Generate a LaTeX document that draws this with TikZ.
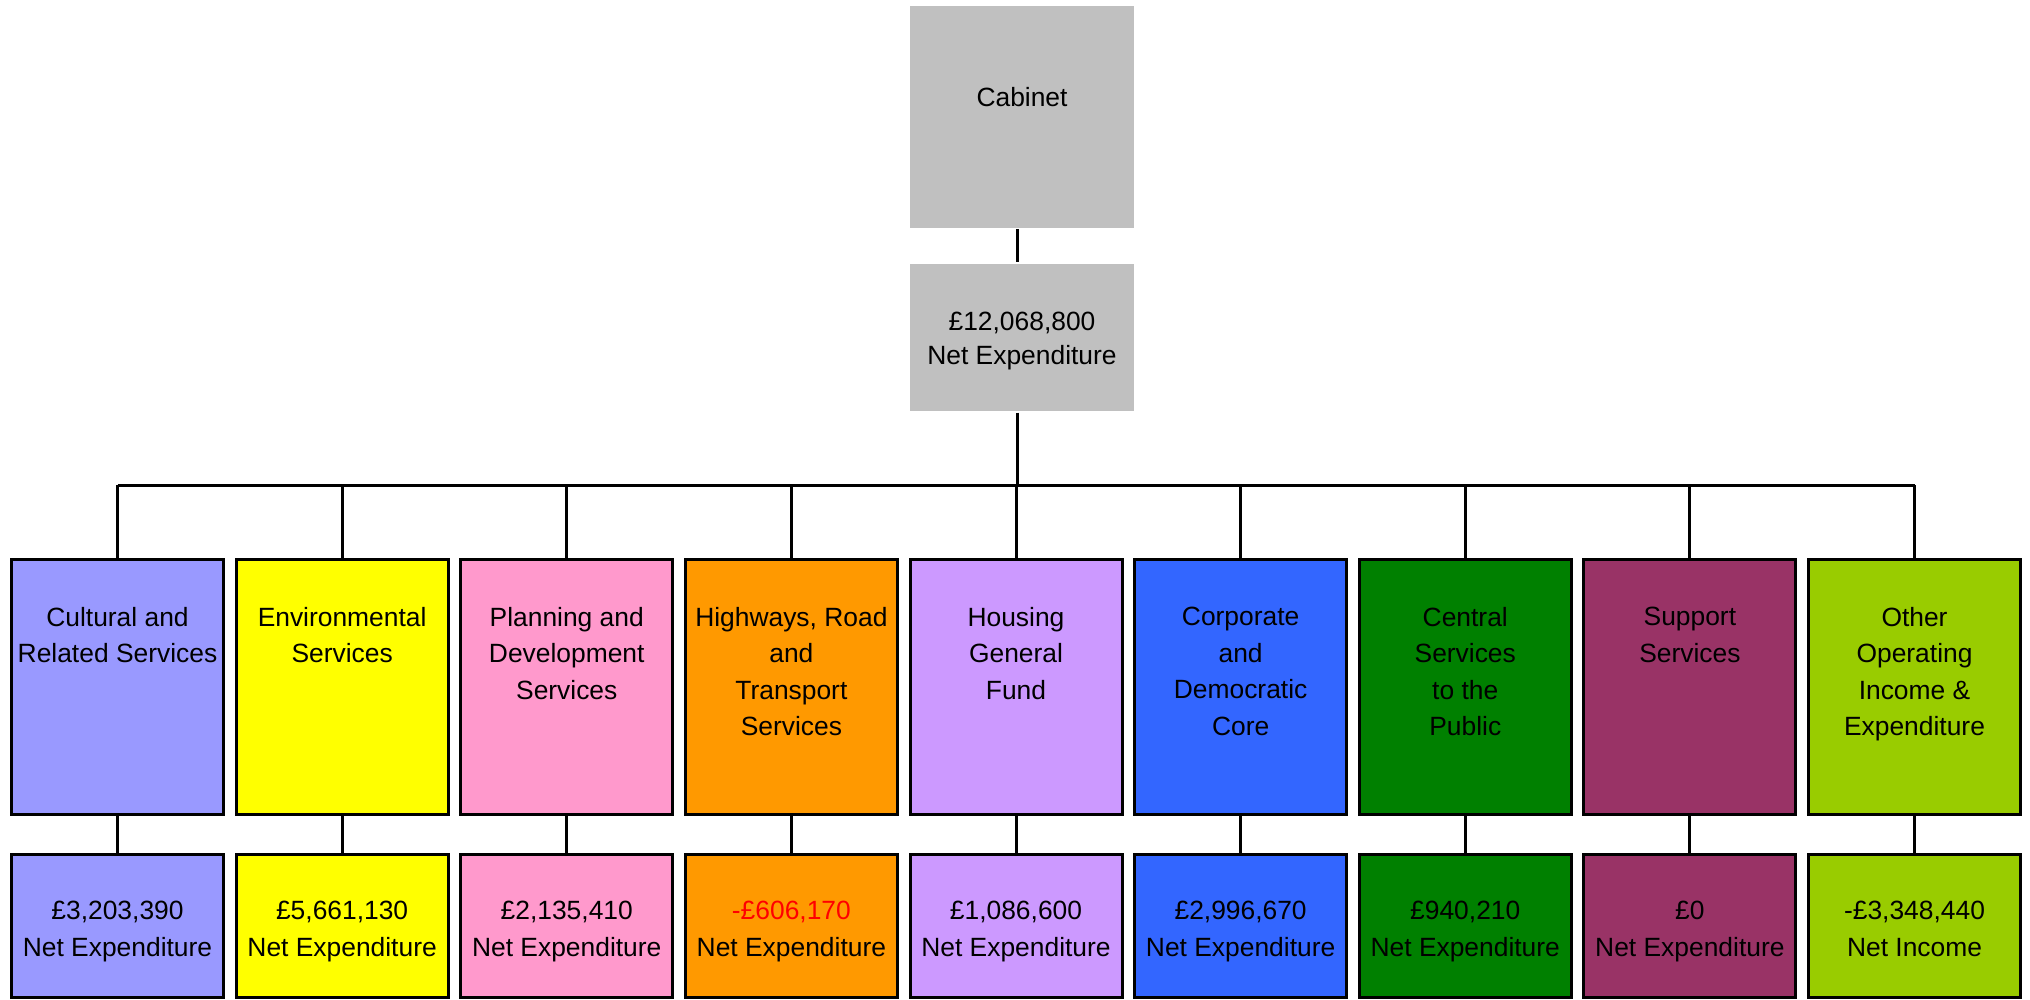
\documentclass[tikz,border=0pt]{standalone}
\usepackage{fontspec}
\setmainfont{Liberation Sans}
\definecolor{cabgrey}{HTML}{C0C0C0}
\definecolor{cultblue}{HTML}{9999FF}
\definecolor{envyellow}{HTML}{FFFF00}
\definecolor{planpink}{HTML}{FF99CC}
\definecolor{highorange}{HTML}{FF9900}
\definecolor{houslilac}{HTML}{CC99FF}
\definecolor{corpblue}{HTML}{3366FF}
\definecolor{centgreen}{HTML}{008000}
\definecolor{suppplum}{HTML}{993366}
\definecolor{otherlime}{HTML}{99CC00}
\definecolor{negred}{HTML}{FF0000}
\tikzset{
  cabbox/.style={fill=cabgrey, minimum width=112pt, inner sep=0pt},
  svcbox/.style={draw, line width=1.5pt, minimum width=106pt, minimum height=127.5pt, inner sep=0pt},
  sumbox/.style={draw, line width=1.5pt, minimum width=106pt, minimum height=71.5pt, inner sep=0pt},
  boxtext/.style={align=center, anchor=north, inner sep=0pt, font=\fontsize{13.2}{18.3}\selectfont,
    execute at begin node=\rule{0pt}{12pt}},
}
\begin{document}
\begin{tikzpicture}[x=0.5pt, y=-0.5pt, line width=1.5pt]
\useasboundingbox (0,0) rectangle (2030,1000);
% top of the tree
\node[cabbox, minimum height=111pt] (cab) at (1022,117) {};
\node[boxtext] (cabtxt) at (1022,81) {Cabinet};
\node[cabbox, minimum height=73.5pt] (net) at (1022,337.5) {};
\node[boxtext, font=\fontsize{13.2}{16.8}\selectfont] (nettxt) at (1022,311) {£12,068,800\\Net Expenditure};
\coordinate (bus) at (1017,485);
% service boxes
\foreach \i/\c/\name/\amt/\kind in {
  1/cultblue/{Cultural and\\Related Services}/{£3,203,390}/Expenditure,
  2/envyellow/{Environmental\\Services}/{£5,661,130}/Expenditure,
  3/planpink/{Planning and\\Development\\Services}/{£2,135,410}/Expenditure,
  4/highorange/{Highways, Road\\and\\Transport\\Services}/{\textcolor{negred}{-£606,170}}/Expenditure,
  5/houslilac/{Housing\\General\\Fund}/{£1,086,600}/Expenditure,
  6/corpblue/{Corporate\\and\\Democratic\\Core}/{£2,996,670}/Expenditure,
  7/centgreen/{Central\\Services\\to the\\Public}/{£940,210}/Expenditure,
  8/suppplum/{Support\\Services}/{£0}/Expenditure,
  9/otherlime/{Other\\Operating\\Income \&\\Expenditure}/{-£3,348,440}/Income}{
  \node[svcbox, fill=\c] (svc\i) at ({117.5+(\i-1)*224.625},687) {};
  \node[boxtext] (svctxt\i) at ({117.5+(\i-1)*224.625},605.5) {\name};
  \node[sumbox, fill=\c] (sum\i) at ({117.5+(\i-1)*224.625},926) {};
  \node[boxtext] (sumtxt\i) at ({117.5+(\i-1)*224.625},899.5) {\amt\\Net \kind};
  \draw (svc\i.north) -- (svc\i.north |- bus);
  \draw (svc\i.south) -- (sum\i.north);
}
% connectors
\draw (cab.south -| bus) -- (net.north -| bus);
\draw (net.south -| bus) -- (bus);
\draw (svc1.north |- bus) -- (svc9.north |- bus);
\end{tikzpicture}
\end{document}
